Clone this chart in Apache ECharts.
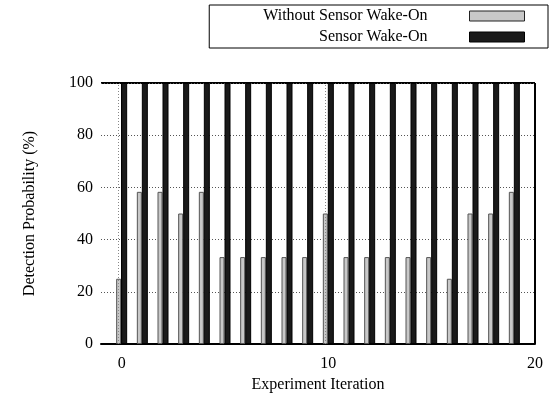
<!DOCTYPE html>
<html>
<head>
<meta charset="utf-8">
<script src="https://cdn.jsdelivr.net/npm/echarts@6/dist/echarts.min.js"></script>
<style>
  html, body { margin: 0; padding: 0; background: #fff; }
  #chart { width: 553px; height: 407px; }
</style>
</head>
<body>
<div id="chart"></div>
<script>
// experiment iterations 0..19
const iterations = [0, 1, 2, 3, 4, 5, 6, 7, 8, 9, 10, 11, 12, 13, 14, 15, 16, 17, 18, 19]
const withoutWakeOn = [25, 58.3, 58.3, 50, 58.3, 33.3, 33.3, 33.3, 33.3, 33.3, 50, 33.3, 33.3, 33.3, 33.3, 33.3, 25, 50, 50, 58.3]
const withWakeOn = [100, 100, 100, 100, 100, 100, 100, 100, 100, 100, 100, 100, 100, 100, 100, 100, 100, 100, 100, 100]
const seriesNames = ['Without Sensor Wake-On', 'Sensor Wake-On']
const xGridAt = [0, 10]

const FONT = '"Liberation Serif", "DejaVu Serif", serif'

let chart = echarts.init(document.getElementById('chart'))

let option = {
  animation: false,
  backgroundColor: '#fff',
  textStyle: { fontFamily: FONT },
  grid: { left: 101, right: 18, top: 83, bottom: 63 },
  legend: {
    right: 5,
    top: 5,
    orient: 'vertical',
    align: 'right',
    icon: 'rect',
    itemWidth: 55,
    itemHeight: 10,
    itemGap: 5,
    padding: [3, 23, 3, 54],
    borderColor: '#000',
    borderWidth: 1,
    textStyle: { fontFamily: FONT, fontSize: 16, color: '#000', padding: [0, 37, 0, 0], lineHeight: 16 },
    data: [
      { name: seriesNames[0], itemStyle: { color: '#c8c8c8', borderColor: '#222', borderWidth: 1 } },
      { name: seriesNames[1], itemStyle: { color: '#1a1a1a', borderColor: '#000', borderWidth: 1 } }
    ]
  },
  xAxis: {
    type: 'value',
    min: -1,
    max: 20,
    interval: 1,
    name: 'Experiment Iteration',
    nameLocation: 'middle',
    nameGap: 32,
    nameTextStyle: { fontFamily: FONT, fontSize: 16, color: '#000' },
    axisLine: { lineStyle: { color: '#000', width: 2 } },
    axisTick: { show: false },
    axisLabel: {
      fontFamily: FONT, fontSize: 16, color: '#000', margin: 12,
      formatter: v => (v % 10 === 0 ? String(v) : '')
    },
    splitLine: { show: false }
  },
  yAxis: {
    type: 'value',
    min: 0,
    max: 100,
    interval: 20,
    name: 'Detection Probability (%)',
    nameLocation: 'middle',
    nameGap: 63,
    nameTextStyle: { fontFamily: FONT, fontSize: 16, color: '#000' },
    axisLine: { show: true, lineStyle: { color: '#000', width: 2 } },
    axisTick: { show: false },
    axisLabel: { fontFamily: FONT, fontSize: 16, color: '#000', margin: 8 },
    splitLine: { show: true, lineStyle: { color: '#555', type: [1, 2], width: 1 } }
  },
  series: [
    {
      name: seriesNames[0],
      type: 'bar',
      barWidth: 5,
      barGap: 0,
      data: iterations.map((x, i) => [x, withoutWakeOn[i]]),
      itemStyle: { color: '#c8c8c8', borderColor: '#555', borderWidth: 1 },
      markLine: {
        silent: true,
        symbol: 'none',
        label: { show: false },
        lineStyle: { color: '#888', type: [1, 2], width: 1 },
        data: xGridAt.map(v => ({ xAxis: v }))
      },
      z: 3
    },
    {
      name: seriesNames[1],
      type: 'bar',
      barWidth: 6,
      barGap: 0,
      data: iterations.map((x, i) => [x, withWakeOn[i]]),
      itemStyle: { color: '#1a1a1a', borderColor: '#000', borderWidth: 1 },
      z: 3
    }
  ],
  graphic: [
    // top and right frame of the plot box
    { type: 'line', shape: { x1: 101, y1: 83, x2: 535, y2: 83 }, style: { stroke: '#000', lineWidth: 2 } },
    { type: 'line', shape: { x1: 535, y1: 83, x2: 535, y2: 344 }, style: { stroke: '#000', lineWidth: 2 } }
  ]
}

chart.setOption(option)
</script>
</body>
</html>
